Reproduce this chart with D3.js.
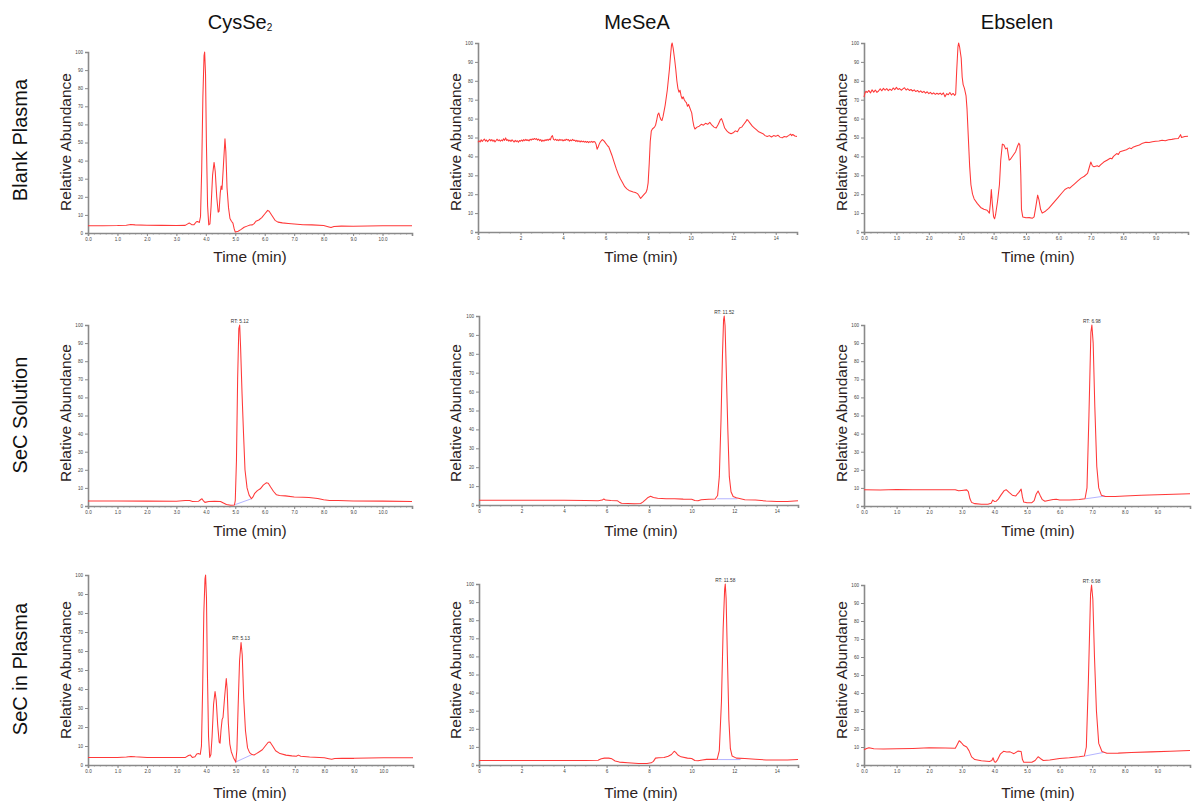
<!DOCTYPE html>
<html lang="en">
<head>
<meta charset="utf-8">
<script src="https://d3js.org/d3.v7.min.js"></script>
<style>
  body { margin: 0; background: #fff; }
  svg { display: block; font-family: "Liberation Sans", Arial, sans-serif; }
</style>
</head>
<body>
<div id="chart"></div>
<script>
// ---- data ----
const colTitles = ["CysSe", "MeSeA", "Ebselen"];
const colSubs   = ["2", "", ""];
const rowTitles = ["Blank Plasma", "SeC Solution", "SeC in Plasma"];

// x range (min) per column and tick labels
const xMax       = [11, 15, 10];
const xTicksCys  = [0, 1, 2, 3, 4, 5, 6, 7, 8, 9, 10];
const xTicksMe   = [0, 2, 4, 6, 8, 10, 12, 14];
const xTicksEb   = [0, 1, 2, 3, 4, 5, 6, 7, 8, 9];
const yTicks     = [0, 10, 20, 30, 40, 50, 60, 70, 80, 90, 100];

// [time, relative abundance]
const cysBlank = [[0,4],[0.5,4],[1.0,4.1],[1.3,4.3],[1.45,4.7],[1.6,4.5],[2.0,4.3],[2.5,4.2],[3.0,4.1],[3.3,4.2],[3.4,5.2],[3.45,5.5],[3.52,4.6],[3.6,4.6],[3.68,6.2],[3.72,6.4],[3.78,5.8],[3.82,9],[3.86,35],[3.9,75],[3.94,98],[3.96,100],[3.99,88],[4.02,50],[4.06,15],[4.1,4.5],[4.14,5],[4.18,15],[4.23,32],[4.28,39],[4.32,34],[4.37,20],[4.42,11.5],[4.45,12],[4.49,22],[4.52,26],[4.55,24],[4.6,38],[4.65,52],[4.68,45],[4.72,25],[4.77,14],[4.82,8],[4.87,6.5],[4.92,5.5],[4.96,2.5],[5.0,0.5],[5.1,1],[5.2,2],[5.3,3.2],[5.4,3.8],[5.5,4.4],[5.58,4.5],[5.64,5.2],[5.7,6.5],[5.8,7.2],[5.9,8.5],[6.0,10.5],[6.1,12.5],[6.15,12],[6.25,9.5],[6.35,7],[6.45,6],[6.6,5.6],[6.8,5.3],[7.0,5],[7.3,4.6],[7.6,4.5],[8.0,4.1],[8.15,3.5],[8.25,3],[8.35,3.6],[8.6,3.8],[9.0,3.7],[9.5,3.9],[10.0,4],[10.5,4],[11,4]];

const meBlank = [[0,47.5],[0.05,48.3],[0.1,47.6],[0.15,48.8],[0.2,47.9],[0.25,48.6],[0.3,49.2],[0.35,48.1],[0.4,48.7],[0.45,47.8],[0.5,48.5],[0.55,49.0],[0.6,48.2],[0.65,48.9],[0.7,48.0],[0.75,48.6],[0.8,47.7],[0.85,48.4],[0.9,49.1],[0.95,48.3],[1.0,48.8],[1.05,48.0],[1.1,48.7],[1.15,48.2],[1.2,49.3],[1.25,48.5],[1.3,49.8],[1.35,48.4],[1.4,48.9],[1.45,48.1],[1.5,48.6],[1.55,47.9],[1.6,48.8],[1.65,48.2],[1.7,47.6],[1.75,48.5],[1.8,47.8],[1.85,48.3],[1.9,47.5],[1.95,48.4],[2.0,48.0],[2.05,48.7],[2.1,48.1],[2.15,48.9],[2.2,48.3],[2.25,49.0],[2.3,48.4],[2.35,48.8],[2.4,48.2],[2.45,49.1],[2.5,48.6],[2.55,49.3],[2.6,48.9],[2.65,49.5],[2.7,49.0],[2.75,49.4],[2.8,48.6],[2.85,49.2],[2.9,48.3],[2.95,48.9],[3.0,47.9],[3.05,48.6],[3.1,48.1],[3.15,48.8],[3.2,48.4],[3.25,49.0],[3.3,48.5],[3.35,49.2],[3.4,48.7],[3.45,50.3],[3.5,51.0],[3.55,49.0],[3.6,48.6],[3.65,49.1],[3.7,48.4],[3.75,48.9],[3.8,48.3],[3.85,49.0],[3.9,48.5],[3.95,48.9],[4.0,48.2],[4.05,48.8],[4.1,48.4],[4.15,49.1],[4.2,48.6],[4.25,48.9],[4.3,48.1],[4.35,48.7],[4.4,48.3],[4.45,49.0],[4.5,48.4],[4.55,48.6],[4.6,47.9],[4.65,48.5],[4.7,47.8],[4.75,48.3],[4.8,47.6],[4.85,48.2],[4.9,47.7],[4.95,48.1],[5.0,47.5],[5.05,48.0],[5.1,47.4],[5.15,47.9],[5.2,47.3],[5.25,47.8],[5.3,47.5],[5.35,48.0],[5.4,47.4],[5.45,47.9],[5.5,47.6],[5.55,46.5],[5.6,43.8],[5.65,45.0],[5.7,46.5],[5.75,47.6],[5.8,48.3],[5.85,48.9],[5.9,48.5],[5.95,47.8],[6.0,47.0],[6.05,46.3],[6.1,45.5],[6.15,45.0],[6.2,43.5],[6.3,40.5],[6.4,37.0],[6.5,33.5],[6.6,30.5],[6.7,28.0],[6.8,26.0],[6.9,24.0],[7.0,22.8],[7.1,22.0],[7.2,21.6],[7.3,21.2],[7.4,20.9],[7.5,20.3],[7.55,19.6],[7.6,18.6],[7.65,17.8],[7.7,18.5],[7.8,19.8],[7.9,21.0],[7.95,22.5],[8.0,26],[8.05,36],[8.1,48],[8.15,53.5],[8.2,54.5],[8.3,55.5],[8.35,56.5],[8.4,59],[8.45,62],[8.5,63],[8.55,61],[8.6,59.5],[8.65,59],[8.7,61],[8.8,67],[8.9,75],[9.0,86],[9.05,93],[9.1,99],[9.13,100],[9.18,97],[9.25,91],[9.3,86],[9.35,80],[9.4,76],[9.45,74],[9.5,75],[9.55,72],[9.6,70.5],[9.65,71.5],[9.7,70],[9.75,69],[9.8,68.5],[9.85,66.5],[9.9,67.5],[9.95,66],[10.0,64.5],[10.05,63],[10.1,59],[10.15,56],[10.2,54.5],[10.3,55.5],[10.4,56],[10.5,57],[10.6,56.5],[10.7,57.5],[10.8,57],[10.9,58],[11.0,56.5],[11.1,55.5],[11.2,55],[11.3,57],[11.4,59.5],[11.45,60],[11.5,58.5],[11.6,55],[11.7,53.5],[11.8,52.5],[11.9,52],[12.0,52.5],[12.1,53.5],[12.2,53],[12.3,55],[12.4,55.5],[12.5,57],[12.6,58.5],[12.65,59.5],[12.7,59],[12.8,57.5],[12.9,56],[13.0,55],[13.1,54],[13.2,53],[13.3,52.5],[13.4,52],[13.5,51],[13.6,50.5],[13.7,51],[13.8,50.3],[13.9,51],[14.0,50.6],[14.1,51.2],[14.2,50.2],[14.3,49.8],[14.4,50.5],[14.5,50.3],[14.6,51],[14.7,51.8],[14.75,51],[14.8,51.6],[14.9,50.8],[15.0,50.5]];

const ebBlank = [[0,71.3],[0.03,73.5],[0.06,74.5],[0.1,73.8],[0.15,74.9],[0.2,73.6],[0.25,75.2],[0.3,74.0],[0.35,75.1],[0.4,73.9],[0.45,74.6],[0.5,75.8],[0.55,74.7],[0.6,76.0],[0.65,75.0],[0.7,75.9],[0.75,74.8],[0.8,75.6],[0.85,74.9],[0.9,76.2],[0.95,75.3],[1.0,76.5],[1.05,75.4],[1.1,75.9],[1.15,75.0],[1.2,75.7],[1.25,76.3],[1.3,75.1],[1.35,75.8],[1.4,74.9],[1.45,75.4],[1.5,74.6],[1.55,75.2],[1.6,74.3],[1.65,74.9],[1.7,74.0],[1.75,74.7],[1.8,73.8],[1.85,74.4],[1.9,73.5],[1.95,74.2],[2.0,73.2],[2.05,73.9],[2.1,73.0],[2.15,73.6],[2.2,72.8],[2.25,73.4],[2.3,72.9],[2.35,73.5],[2.4,72.7],[2.45,73.6],[2.5,71.6],[2.55,73.2],[2.6,72.6],[2.65,73.8],[2.7,72.5],[2.75,73.3],[2.8,72.3],[2.83,73],[2.86,85],[2.9,98],[2.92,100],[2.95,98],[3.0,92],[3.03,82],[3.06,78],[3.1,76],[3.15,72],[3.18,65],[3.22,50],[3.26,35],[3.3,25],[3.35,20],[3.4,17.5],[3.5,15],[3.6,13],[3.7,12],[3.8,11.5],[3.87,10],[3.9,15],[3.93,22.5],[3.96,15],[4.0,8],[4.03,7],[4.06,9],[4.12,16],[4.18,25],[4.22,38],[4.27,46.5],[4.32,46],[4.37,44],[4.42,44.5],[4.48,38],[4.52,38.5],[4.6,40.5],[4.68,42.5],[4.74,45.5],[4.78,47],[4.81,46],[4.84,30],[4.86,12],[4.9,8],[5.0,7.5],[5.1,7.6],[5.2,7.3],[5.25,8],[5.3,13],[5.36,19.5],[5.4,17],[5.45,12],[5.5,10],[5.6,11],[5.7,12.5],[5.8,14.5],[5.9,16.5],[6.0,18.5],[6.1,20.5],[6.2,22.5],[6.3,23.5],[6.35,23.2],[6.4,24],[6.5,25.5],[6.6,27],[6.7,28.5],[6.8,29.5],[6.9,31],[6.95,34],[7.0,37],[7.05,35],[7.1,34.5],[7.2,35],[7.25,34.6],[7.3,35.5],[7.4,37],[7.5,38],[7.6,39],[7.65,38.7],[7.7,40],[7.8,41.5],[7.85,41],[7.9,42.5],[8.0,43],[8.1,43.5],[8.2,44.5],[8.25,44.1],[8.3,44.8],[8.4,45.5],[8.5,46],[8.6,47],[8.7,47.5],[8.8,47.3],[8.9,47.8],[9.0,48],[9.1,48.2],[9.2,48.5],[9.3,48.3],[9.4,48.8],[9.5,49],[9.6,49.3],[9.7,49.5],[9.77,51.5],[9.8,50],[9.9,50.5],[10.0,50.7]];

const cysSol = [[0,2.8],[1,2.8],[2,2.7],[3,2.6],[3.3,3],[3.45,3],[3.55,2.5],[3.75,2.6],[3.83,3.6],[3.87,4],[3.92,2.8],[3.97,2],[4.1,2.5],[4.3,2.6],[4.5,2.5],[4.58,1.8],[4.7,0.8],[4.85,0.4],[4.97,0.5],[5.0,3],[5.04,25],[5.08,70],[5.12,98],[5.15,100],[5.18,88],[5.23,62],[5.28,40],[5.33,20],[5.4,10],[5.47,6],[5.55,4],[5.6,5],[5.66,7],[5.75,8.5],[5.85,9.5],[5.95,11.5],[6.05,12.8],[6.12,12.6],[6.2,10.5],[6.3,8],[6.4,6.2],[6.5,5.8],[6.7,5.6],[7.0,5],[7.3,4.8],[7.5,4.7],[7.8,4.2],[8.0,3.5],[8.2,3],[8.5,3],[9,2.8],[10,2.7],[11,2.5]];

const meSol = [[0,2.5],[1,2.5],[2,2.5],[3,2.5],[4,2.5],[5,2.4],[5.6,2.3],[5.8,2.6],[5.87,3.2],[5.95,2.6],[6.2,2.4],[6.5,2.3],[6.6,1.5],[6.7,0.9],[7.0,0.8],[7.3,0.7],[7.6,0.8],[7.7,1.5],[7.85,3],[7.95,4],[8.07,4.6],[8.2,4],[8.4,3.6],[8.8,3.3],[9.2,3.3],[9.6,3.1],[10.0,3],[10.15,2.4],[10.3,2.3],[10.45,2.8],[10.8,3],[11.1,3.2],[11.22,5],[11.3,15],[11.38,45],[11.45,80],[11.5,98],[11.53,100],[11.57,95],[11.63,70],[11.7,40],[11.77,15],[11.85,7],[11.95,4.5],[12.1,3.8],[12.5,2.8],[13,2.6],[13.5,2.1],[14,1.8],[14.5,1.9],[15,2.3]];

const ebSol = [[0,9],[0.5,8.8],[1,9.1],[1.5,9],[2,9],[2.5,9],[2.8,9],[2.9,8.4],[3.0,8.6],[3.15,8.9],[3.2,8],[3.25,4],[3.3,2],[3.4,1.3],[3.6,1],[3.8,1],[3.9,1.5],[3.95,3.3],[4.0,2.5],[4.05,2.6],[4.12,3.8],[4.2,6],[4.3,8.5],[4.36,9],[4.45,7.5],[4.55,6],[4.65,5.5],[4.75,7.5],[4.82,9.3],[4.86,5],[4.9,2.2],[5.0,1.8],[5.15,1.8],[5.22,3],[5.28,6.5],[5.34,8.3],[5.4,6],[5.47,3.5],[5.55,2.6],[5.65,3],[5.8,3.6],[5.9,3.7],[6.0,3.3],[6.3,3.3],[6.6,3.6],[6.78,4],[6.84,10],[6.9,50],[6.96,96],[6.99,100],[7.03,90],[7.08,55],[7.14,22],[7.2,10],[7.28,6],[7.4,5.3],[7.7,5.3],[8,5.5],[8.5,5.9],[9,6.2],[9.5,6.5],[10,6.8]];

const cysPla = [[0,3.9],[0.5,3.9],[1.0,4],[1.3,4.2],[1.45,4.5],[1.6,4.3],[2,4],[2.5,4],[3,4],[3.3,4],[3.4,5],[3.46,5.3],[3.53,4],[3.62,4.3],[3.68,5.8],[3.74,6],[3.8,5.6],[3.84,10],[3.88,40],[3.92,80],[3.96,98],[3.98,100],[4.01,88],[4.04,50],[4.08,15],[4.12,4],[4.16,5.5],[4.2,15],[4.25,32],[4.3,38.7],[4.34,34],[4.39,21],[4.44,12],[4.47,11.5],[4.5,18],[4.54,24],[4.57,25],[4.62,35],[4.68,45.5],[4.71,40],[4.75,22],[4.8,11],[4.85,7],[4.92,4],[4.97,2.5],[5.0,1.5],[5.04,8],[5.08,30],[5.13,55],[5.18,64.5],[5.22,58],[5.27,35],[5.33,18],[5.4,9],[5.47,6.5],[5.55,5.5],[5.62,5.3],[5.7,6],[5.8,7],[5.9,8],[6.0,10],[6.1,12],[6.16,12.1],[6.25,10],[6.35,7.5],[6.5,6],[6.7,5.2],[6.9,4.8],[7.05,4.6],[7.12,5.2],[7.2,4.6],[7.5,4.2],[8,3.8],[8.15,3.3],[8.25,3],[8.35,3.4],[8.6,3.5],[9,3.5],[9.5,3.7],[10,3.8],[11,3.8]];

const mePla = [[0,2.5],[1,2.5],[2,2.5],[3,2.5],[4,2.5],[5,2.5],[5.6,2.6],[5.75,3.5],[5.9,3.8],[6.1,3.8],[6.25,3.4],[6.4,2.2],[6.6,1.6],[7.0,1.2],[7.5,0.8],[7.9,0.8],[8.1,1.2],[8.2,2],[8.3,3.8],[8.45,4],[8.7,4.1],[8.9,4.8],[9.05,5.8],[9.18,7.6],[9.25,7],[9.35,5.5],[9.5,4.5],[9.8,3.8],[10.0,3.6],[10.15,2.5],[10.3,2.3],[10.5,2.8],[10.7,3.1],[11.0,3.1],[11.2,3.2],[11.3,8],[11.4,35],[11.48,75],[11.55,97],[11.58,100],[11.62,92],[11.68,60],[11.75,25],[11.82,9],[11.9,5],[12.1,3.8],[12.5,3.6],[13,3.2],[13.5,2.8],[14,2.8],[14.5,2.8],[15,3]];

const ebPla = [[0,8.5],[0.08,9.2],[0.15,9.6],[0.3,9],[0.6,8.9],[1,9],[1.5,9.2],[2,9.6],[2.5,9.4],[2.8,9.3],[2.85,11],[2.92,13.5],[2.98,12.5],[3.05,11],[3.15,10],[3.22,8],[3.3,4.5],[3.4,3],[3.6,2.4],[3.85,2],[3.92,2.5],[3.96,4],[4.0,1.8],[4.04,1.5],[4.1,3],[4.18,6],[4.28,7.6],[4.38,7.2],[4.48,7.3],[4.6,6.3],[4.72,7.7],[4.82,7.5],[4.86,3],[4.9,1.5],[5.0,1.5],[5.15,1.5],[5.25,2.5],[5.34,4.6],[5.42,3.5],[5.5,2.5],[5.7,2.8],[6.0,3.6],[6.3,4],[6.6,4.6],[6.76,5],[6.82,10],[6.88,45],[6.95,95],[6.98,100],[7.02,92],[7.07,60],[7.13,30],[7.2,12],[7.3,7.5],[7.45,6.5],[7.8,6.6],[8.2,7],[8.8,7.3],[9.4,7.6],[10,8]];

// integration baselines (blue) and retention-time labels
const baseSol = [[[5.0,0.8],[5.55,4]], [[11.2,3.3],[12.15,3.3]], [[6.8,4],[7.4,5.5]]];
const basePla = [[[4.99,1.5],[5.55,5.5]], [[11.2,3],[12.3,3]], [[6.78,5],[7.35,7]]];
const rtSol = [[5.15,100,"RT: 5.12"], [11.53,100,"RT: 11.52"], [6.99,100,"RT: 6.98"]];
const rtPla = [[5.18,64.5,"RT: 5.13"], [11.58,100,"RT: 11.58"], [6.98,100,"RT: 6.98"]];

// ---- layout ----
const W = 1198, H = 810;
// plot boxes [left, top, right, bottom], row-major
const frames = [
  [88, 52, 412, 233], [478, 43, 797, 232], [864, 43, 1188, 232],
  [88, 325, 412, 506], [479, 316, 798, 505], [864, 325, 1190, 506],
  [88, 575, 413, 765], [479, 584, 798, 765], [864, 585, 1190, 765]
];
const series = [cysBlank, meBlank, ebBlank, cysSol, meSol, ebSol, cysPla, mePla, ebPla];
const colX = [66, 456, 842];            // y-axis title centre
const colTitleX = [240, 637, 1017];
const rowLabelY = [140, 415, 669];
const rowYTitle = [142, 413, 670];
const timeY = [[262, 262, 262], [536, 536, 536], [798, 798, 798]];
const timeX = [250, 641, 1038];

const svg = d3.select("#chart").append("svg")
  .attr("width", W).attr("height", H);

colTitles.forEach((t, c) => {
  const tx = svg.append("text")
    .attr("x", colTitleX[c]).attr("y", 29)
    .attr("text-anchor", "middle")
    .attr("font-size", 20).attr("fill", "#111")
    .text(t);
  if (colSubs[c]) tx.append("tspan").attr("font-size", 10).attr("dy", 2).text(colSubs[c]);
});

rowTitles.forEach((t, r) => {
  svg.append("text")
    .attr("transform", "translate(27," + rowLabelY[r] + ") rotate(-90)")
    .attr("text-anchor", "middle")
    .attr("font-size", 20).attr("fill", "#111")
    .text(t);
});

const line = (x, y) => d3.line().x(d => x(d[0])).y(d => y(d[1]));

frames.forEach((f, i) => {
  const r = Math.floor(i / 3), c = i % 3;
  const [l, t, rr, b] = f;
  const x = d3.scaleLinear().domain([0, xMax[c]]).range([l, rr]);
  const y = d3.scaleLinear().domain([0, 100]).range([b, t]);
  const g = svg.append("g");

  // minor x ticks
  const minorStep = c === 1 ? 0.5 : 0.2;
  g.append("g").attr("transform", "translate(0," + b + ")")
    .call(d3.axisBottom(x).tickValues(d3.range(0, xMax[c] + 1e-6, minorStep)).tickSize(1.5).tickFormat(""))
    .call(a => a.select(".domain").remove())
    .selectAll("line").attr("stroke", "#999");

  const xt = c === 0 ? xTicksCys : c === 1 ? xTicksMe : xTicksEb;
  const xa = g.append("g").attr("transform", "translate(0," + b + ")")
    .call(d3.axisBottom(x).tickValues(xt).tickSize(3).tickPadding(2)
      .tickFormat(c === 1 ? d3.format("d") : d3.format(".1f")));
  const ya = g.append("g").attr("transform", "translate(" + l + ",0)")
    .call(d3.axisLeft(y).tickValues(yTicks).tickSize(3).tickPadding(2).tickFormat(d3.format("d")));
  [xa, ya].forEach(a => {
    a.select(".domain").attr("stroke", "#8a8a8a").attr("stroke-width", 1.6);
    a.selectAll(".tick line").attr("stroke", "#8a8a8a");
    a.selectAll(".tick text").attr("font-size", 4.6).attr("fill", "#444")
      .attr("font-family", "Liberation Sans, Arial, sans-serif");
  });

  // integration baseline + RT label
  if (r > 0) {
    const bl = (r === 1 ? baseSol : basePla)[c];
    g.append("path").datum(bl).attr("d", line(x, y))
      .attr("fill", "none").attr("stroke", "#b4b4ff").attr("stroke-width", 1);
    const rt = (r === 1 ? rtSol : rtPla)[c];
    g.append("text").attr("x", x(rt[0])).attr("y", y(rt[1]) - 2)
      .attr("text-anchor", "middle").attr("font-size", 4.8).attr("fill", "#333")
      .text(rt[2]);
  }

  g.append("path").datum(series[i]).attr("d", line(x, y))
    .attr("fill", "none").attr("stroke", "#ff3838").attr("stroke-width", 1.05)
    .attr("stroke-linejoin", "round");

  // axis titles
  g.append("text")
    .attr("transform", "translate(" + (colX[c] + 5) + "," + rowYTitle[r] + ") rotate(-90)")
    .attr("text-anchor", "middle").attr("font-size", 15.5).attr("fill", "#2e1f1f")
    .text("Relative Abundance");
  g.append("text")
    .attr("x", timeX[c]).attr("y", timeY[r][c])
    .attr("text-anchor", "middle").attr("font-size", 15.5).attr("fill", "#2e1f1f")
    .text("Time (min)");
});
</script>
</body>
</html>
